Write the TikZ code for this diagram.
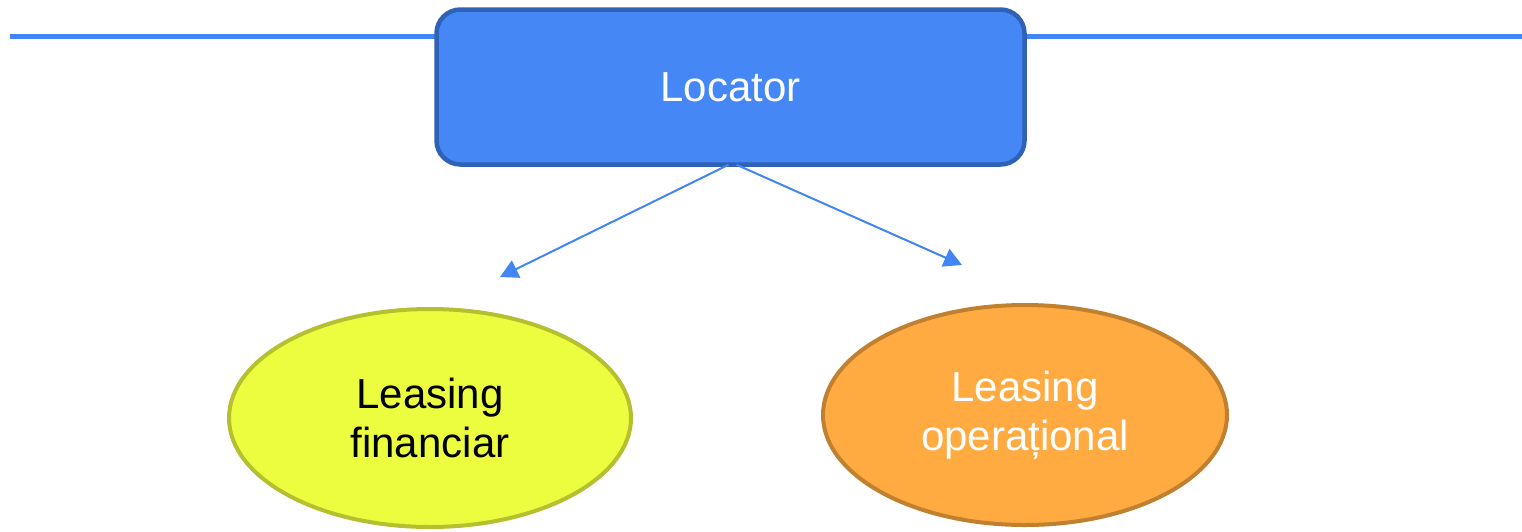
\documentclass[tikz,border=0pt]{standalone}
\usepackage{fontspec}
\setmainfont{Liberation Sans}
\usetikzlibrary{shapes.geometric,arrows.meta}
\definecolor{lineblue}{HTML}{4285F4}
\definecolor{boxfill}{HTML}{4487F5}
\definecolor{boxdraw}{HTML}{2F62B5}
\definecolor{yfill}{HTML}{EBFD3E}
\definecolor{ydraw}{HTML}{B4C030}
\definecolor{ofill}{HTML}{FFAB42}
\definecolor{odraw}{HTML}{C0802F}
\begin{document}
\begin{tikzpicture}[x=1pt,y=-1pt,
  boxstyle/.style={draw=boxdraw,fill=boxfill,line width=4.5pt,rounded corners=24pt,minimum width=588pt,minimum height=155pt,inner sep=0pt,text=white,font=\fontsize{42}{50}\selectfont},
  ellstyle/.style={ellipse,line width=4pt,inner sep=0pt,align=center,font=\fontsize{42}{49}\selectfont},
  arr/.style={draw=lineblue,line width=2pt,-{Triangle[length=18pt,width=19pt]}}]
\useasboundingbox (0,0) rectangle (1522,531);
\coordinate (ls) at (10,36);
\coordinate (le) at (1522,36);
\draw[lineblue,line width=5pt] (ls) -- (le);
\node[boxstyle] (loc) at (730.5,87) {Locator};
\node[ellstyle,draw=ydraw,fill=yfill,minimum width=402pt,minimum height=218pt] (fin) at (430,418) {Leasing\\financiar};
\node[ellstyle,draw=odraw,fill=ofill,text=white,minimum width=404pt,minimum height=220pt] (op) at (1025,415) {Leasing\\operațional};
\coordinate (t1) at (500,277);
\coordinate (t2) at (962,265);
\draw[arr] ([xshift=-2pt,yshift=2pt]loc.south) -- (t1);
\draw[arr] ([xshift=6pt,yshift=2pt]loc.south) -- (t2);
\end{tikzpicture}
\end{document}
